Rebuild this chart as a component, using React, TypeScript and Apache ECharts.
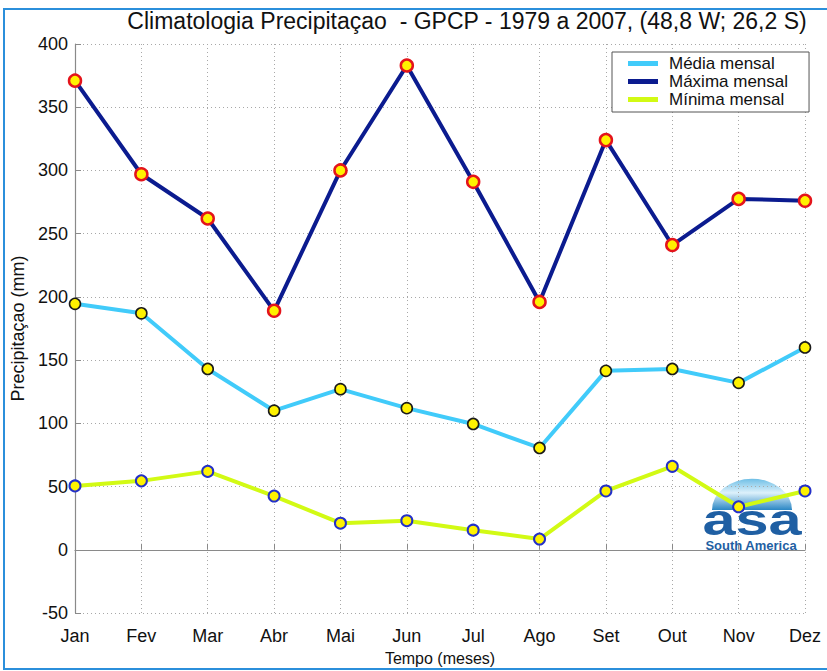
import React, { useEffect, useRef } from "react";
import * as echarts from "echarts";

const months = ["Jan", "Fev", "Mar", "Abr", "Mai", "Jun", "Jul", "Ago", "Set", "Out", "Nov", "Dez"];
const mediaMensal = [194.5, 187, 143, 110, 127, 112, 99.5, 80.5, 141.5, 143, 132, 160];
const maximaMensal = [371, 297, 262, 189, 300, 383, 291, 196, 324, 241, 277.5, 276];
const minimaMensal = [50.5, 54.5, 62, 42.5, 21, 23, 15.5, 8.5, 46.5, 66, 34, 46.5];

const FONT = "'Liberation Sans', Arial, sans-serif";

export default function App() {
  const ref = useRef<HTMLDivElement>(null);
  useEffect(() => {
    if (!ref.current) return;
    const chart = echarts.init(ref.current, null, { renderer: "svg" });
    const grid = "#a8a8a8";
    const option: any = {
      animation: false,
      backgroundColor: "#ffffff",
      textStyle: { fontFamily: FONT },
      grid: { left: 75, right: 22, top: 44, bottom: 58 },
      legend: {
        orient: "vertical",
        left: 612,
        top: 52,
        backgroundColor: "#ffffff",
        borderColor: "#555",
        borderWidth: 1,
        padding: [3, 21, 4, 16],
        itemWidth: 30,
        itemHeight: 5,
        itemGap: 1,
        icon: "rect",
        textStyle: { fontSize: 17, color: "#111", fontFamily: FONT, padding: [0, 0, 0, 6] },
        data: [
          { name: "Média mensal", itemStyle: { color: "#41CBFA", borderWidth: 0 } },
          { name: "Máxima mensal", itemStyle: { color: "#0B1B8F", borderWidth: 0 } },
          { name: "Mínima mensal", itemStyle: { color: "#D2FA14", borderWidth: 0 } },
        ],
      },
      xAxis: {
        type: "category",
        data: months,
        boundaryGap: false,
        name: "Tempo (meses)",
        nameLocation: "middle",
        nameGap: 37,
        nameTextStyle: { fontSize: 16, color: "#111", fontFamily: FONT },
        axisLine: { lineStyle: { color: "#8a8a8a", width: 1.2 } },
        axisTick: { inside: true, length: 6, alignWithLabel: true, lineStyle: { color: "#8a8a8a" } },
        axisLabel: { fontSize: 18, color: "#111", margin: 14, fontFamily: FONT },
        splitLine: { show: true, lineStyle: { color: grid, type: [1, 3], width: 1 } },
      },
      yAxis: {
        type: "value",
        min: -50,
        max: 400,
        interval: 50,
        name: "Precipitaçao (mm)",
        nameLocation: "middle",
        nameGap: 40,
        nameTextStyle: { fontSize: 18, color: "#111", fontFamily: FONT },
        axisLine: { show: true, lineStyle: { color: "#8a8a8a", width: 1.2 } },
        axisTick: { show: true, inside: true, length: 6, lineStyle: { color: "#8a8a8a" } },
        axisLabel: { fontSize: 18, color: "#111", margin: 7, fontFamily: FONT },
        splitLine: { show: true, lineStyle: { color: grid, type: [1, 3], width: 1 } },
      },
      graphic: [
        {
          type: "rect",
          shape: { x: 4, y: 9, width: 900, height: 660 },
          style: { fill: "none", stroke: "#2B8FDB", lineWidth: 2 },
          silent: true,
        },
        {
          type: "text",
          x: 467,
          y: 21,
          style: {
            text: "Climatologia Precipitaçao  - GPCP - 1979 a 2007, (48,8 W; 26,2 S)",
            fontSize: 23,
            fontFamily: FONT,
            fill: "#111",
            align: "center",
            verticalAlign: "middle",
          },
        },
        {
          type: "sector",
          x: 752,
          y: 510,
          scaleY: 0.78,
          shape: { cx: 0, cy: 0, r: 40, startAngle: Math.PI, endAngle: 2 * Math.PI, clockwise: true },
          style: {
            fill: new echarts.graphic.LinearGradient(0, 0, 0, 1, [
              { offset: 0, color: "#6FBFE6" },
              { offset: 0.45, color: "#DDF1FB" },
              { offset: 1, color: "#2A86C4" },
            ]),
          },
          z: 0,
          silent: true,
        },
        {
          type: "text",
          x: 752,
          y: 520,
          scaleX: 1.35,
          style: {
            text: "asa",
            fontSize: 44,
            fontWeight: "bold",
            fontFamily: FONT,
            fill: "#1F5FA3",
            align: "center",
            verticalAlign: "middle",
          },
          z: 0,
          silent: true,
        },
        {
          type: "text",
          x: 751,
          y: 545,
          style: {
            text: "South America",
            fontSize: 13,
            fontWeight: "bold",
            fontFamily: FONT,
            fill: "#1F5FA3",
            align: "center",
            verticalAlign: "middle",
          },
          z: 0,
          silent: true,
        },
      ],
      series: [
        {
          name: "Máxima mensal",
          type: "line",
          data: maximaMensal,
          lineStyle: { color: "#0B1B8F", width: 4 },
          symbol: "circle",
          symbolSize: 12,
          itemStyle: { color: "#FFF200", borderColor: "#E4141B", borderWidth: 2.5 },
          z: 3,
        },
        {
          name: "Média mensal",
          type: "line",
          data: mediaMensal,
          lineStyle: { color: "#41CBFA", width: 4 },
          symbol: "circle",
          symbolSize: 11,
          itemStyle: { color: "#FFF200", borderColor: "#1a1a1a", borderWidth: 1.6 },
          z: 4,
        },
        {
          name: "Mínima mensal",
          type: "line",
          data: minimaMensal,
          lineStyle: { color: "#D2FA14", width: 4 },
          symbol: "circle",
          symbolSize: 11,
          itemStyle: { color: "#FFF200", borderColor: "#2430C8", borderWidth: 2 },
          z: 5,
        },
      ],
    };
    chart.setOption(option);
    return () => chart.dispose();
  }, []);
  return (
    <div
      ref={ref}
      style={{ position: "absolute", left: 0, top: 0, width: 827, height: 671, background: "#fff" }}
    />
  );
}
